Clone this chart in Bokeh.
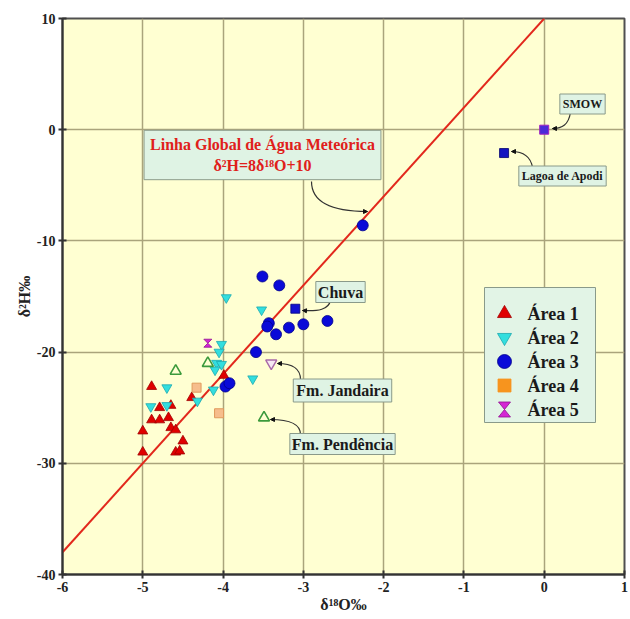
from bokeh.plotting import figure
from bokeh.models import Range1d, FixedTicker, Label, Arrow, NormalHead
from bokeh.embed import file_html
from bokeh.resources import INLINE
from bokeh.core.properties import value

# ---------------- data ----------------
area1_d18O = [-4.89, -4.79, -4.65, -4.89, -4.79, -4.68, -4.65, -4.59, -5.00, -4.50, -5.00, -4.59, -4.54, -4.39, -3.99]
area1_d2H = [-23.1, -25.0, -24.8, -26.1, -26.1, -25.9, -26.8, -27.0, -27.1, -28.0, -29.0, -29.0, -28.9, -24.1, -22.1]
area2_d18O = [-4.02, -4.05, -4.08, -4.02, -4.10, -4.12, -4.70, -4.90, -4.70, -4.32, -3.63, -3.96, -3.52]
area2_d2H = [-19.3, -20.0, -21.0, -21.1, -21.6, -23.4, -23.2, -24.9, -24.8, -24.4, -22.4, -15.1, -16.2]
area3_d18O = [-3.51, -3.30, -3.43, -3.45, -3.34, -3.18, -3.00, -2.70, -3.59, -3.97, -3.92, -2.26]
area3_d2H = [-13.2, -14.0, -17.4, -17.7, -18.4, -17.8, -17.5, -17.2, -20.0, -23.1, -22.8, -8.6]
area4_d18O = [-4.33, -4.05]
area4_d2H = [-23.2, -25.5]
area5_d18O = [-4.19]
area5_d2H = [-19.2]
pendencia_d18O = [-4.59, -4.19, -3.49]
pendencia_d2H = [-21.7, -21.0, -25.9]
jandaira_d18O = [-3.40]
jandaira_d2H = [-21.0]
chuva_d18O = [-3.10]
chuva_d2H = [-16.1]
smow_d18O = [0.0]
smow_d2H = [0.0]
lagoa_d18O = [-0.50]
lagoa_d2H = [-2.1]
gmwl_d18O = [-6.0, 0.0]
gmwl_d2H = [-38.0, 10.0]

x_ticks = [-6, -5, -4, -3, -2, -1, 0, 1]
y_ticks = [-40, -30, -20, -10, 0, 10]
legend_labels = ["Área 1", "Área 2", "Área 3", "Área 4", "Área 5"]

# ---------------- layout helpers (pixel -> data) ----------------
X0, X1, Y0, Y1 = -6.0, 1.0, -40.0, 10.0
FL, FT, FW, FH = 62, 18, 562, 556


def dx(px):
    return X0 + (px - FL) * (X1 - X0) / FW


def dy(py):
    return Y1 - (py - FT) * (Y1 - Y0) / FH


UX = (X1 - X0) / FW
UY = (Y1 - Y0) / FH


def hourglass(xs, ys, wpx, hpx):
    w, h = wpx / 2 * UX, hpx / 2 * UY
    pxs, pys = [], []
    for x, y in zip(xs, ys):
        pxs.append([x - w, x + w, x, x + w, x - w, x])
        pys.append([y + h, y + h, y, y - h, y - h, y])
    return pxs, pys


SERIF = "Liberation Serif"

p = figure(width=630, height=619, output_backend="svg", toolbar_location=None,
           x_range=Range1d(X0, X1), y_range=Range1d(Y0, Y1),
           min_border_left=FL, min_border_right=630 - FL - FW,
           min_border_top=FT, min_border_bottom=619 - FT - FH)
p.background_fill_color = "#ffffd2"
p.border_fill_color = "white"
p.outline_line_color = "#505050"
p.outline_line_width = 2

xt = FixedTicker(ticks=x_ticks)
yt = FixedTicker(ticks=y_ticks)
p.xaxis.ticker = xt
p.yaxis.ticker = yt
p.xgrid.ticker = xt
p.ygrid.ticker = yt
p.xaxis.major_label_overrides = {t: str(t) for t in x_ticks}
p.yaxis.major_label_overrides = {t: str(t) for t in y_ticks}
p.grid.grid_line_color = "#aaa47c"
p.grid.grid_line_width = 1.5

for ax in (p.xaxis[0], p.yaxis[0]):
    ax.axis_line_color = "#333333"
    ax.axis_line_width = 2
    ax.major_tick_line_color = "#333333"
    ax.major_tick_line_width = 2
    ax.major_tick_in = 4
    ax.major_tick_out = 4
    ax.minor_tick_line_color = None
    ax.major_label_text_font = SERIF
    ax.major_label_text_font_style = "bold"
    ax.major_label_text_font_size = "14px"
    ax.major_label_text_color = "#222222"
    ax.axis_label_text_font = SERIF
    ax.axis_label_text_font_style = "bold"
    ax.axis_label_text_font_size = "16px"
    ax.axis_label_text_color = "#222222"
    ax.major_label_standoff = 3
    ax.axis_label_standoff = 1
p.xaxis.axis_label = "δ¹⁸O‰"
p.yaxis.axis_label = "δ²H‰"

# global meteoric water line
p.line(gmwl_d18O, gmwl_d2H, line_color="#e2281c", line_width=2)

# data markers
p.scatter(area1_d18O, area1_d2H, marker="triangle", size=10,
          fill_color="#e00000", line_color="#a00000", line_width=0.8)
p.scatter(area2_d18O, area2_d2H, marker="inverted_triangle", size=10,
          fill_color="#33dede", line_color="#1aa8b0", line_width=0.8)
p.scatter(area3_d18O, area3_d2H, marker="circle", size=11,
          fill_color="#0a0ad8", line_color="#00008a", line_width=0.8)
p.scatter(area4_d18O, area4_d2H, marker="square", size=9,
          fill_color="#f6bd8c", line_color="#e09a5c", line_width=1)
hx, hy = hourglass(area5_d18O, area5_d2H, 8, 8)
p.patches(hx, hy, fill_color="#d426d4", line_color="#901090", line_width=0.8)
p.scatter(pendencia_d18O, pendencia_d2H, marker="triangle", size=11,
          fill_color=None, line_color="#3c9a3c", line_width=1.6)
p.scatter(jandaira_d18O, jandaira_d2H, marker="inverted_triangle", size=11,
          fill_color="#f6e8f2", line_color="#a868a8", line_width=1.4)
p.scatter(chuva_d18O, chuva_d2H, marker="square", size=9,
          fill_color="#1010d0", line_color="#000080", line_width=0.8)
p.scatter(smow_d18O, smow_d2H, marker="square", size=9,
          fill_color="#4a2ad8", line_color="#a020c0", line_width=1)
p.scatter(lagoa_d18O, lagoa_d2H, marker="square", size=9,
          fill_color="#1414c0", line_color="#000070", line_width=0.8)

# ---------------- callouts ----------------
BOX_FILL = "#dff3e4"
BOX_LINE = "#8a9a8a"
callouts = [
    ("Linha Global de Água Meteórica\nδ²H=8δ¹⁸O+10", 262, 154.5, "16px", "#e0201a", 6,
     (311, 181, 311, 201, 330, 211, 367, 211)),
    ("Chuva", 340, 291.5, "16px", "#1a1a1a", 2,
     (330, 300, 328, 309, 318, 311, 302, 310)),
    ("Fm. Jandaira", 342, 390, "16px", "#1a1a1a", 3,
     (300, 379, 300, 368, 292, 363, 277, 363)),
    ("Fm. Pendência", 342, 443.5, "16px", "#1a1a1a", 2,
     (300, 434, 300, 424, 290, 419, 270, 419)),
    ("SMOW", 582, 103.5, "12px", "#1a1a1a", 3,
     (570, 112, 568, 124, 562, 128, 552, 128)),
    ("Lagoa de Apodi", 562, 175.5, "12px", "#1a1a1a", 3,
     (532, 167, 530, 155, 522, 151, 511, 151)),
]
for text, cx, cy, fs, col, pad, (sx, sy, c1x, c1y, c2x, c2y, ex, ey) in callouts:
    p.bezier(x0=[dx(sx)], y0=[dy(sy)], x1=[dx(ex)], y1=[dy(ey)],
             cx0=[dx(c1x)], cy0=[dy(c1y)], cx1=[dx(c2x)], cy1=[dy(c2y)],
             line_color="#333333", line_width=1.2)
    p.add_layout(Arrow(end=NormalHead(size=4, fill_color="#111111", line_color="#111111"),
                       x_start=dx(c2x), y_start=dy(c2y), x_end=dx(ex), y_end=dy(ey),
                       line_alpha=0))
    p.add_layout(Label(x=dx(cx), y=dy(cy), text=text, text_align="center",
                       text_baseline="middle", text_font=SERIF, text_font_style="bold",
                       text_font_size=fs, text_color=col, background_fill_color=BOX_FILL,
                       border_line_color=BOX_LINE, border_line_width=1, padding=pad))

# ---------------- legend (drawn manually) ----------------
p.quad(left=[dx(484)], right=[dx(595)], top=[dy(287)], bottom=[dy(422)],
       fill_color="#e2f4e6", line_color=BOX_LINE, line_width=1)
rows = [313, 337, 361, 385, 409]
mx = dx(504)
p.scatter([mx], [dy(rows[0])], marker="triangle", size=14,
          fill_color="#e00000", line_color="#a00000", line_width=0.8)
p.scatter([mx], [dy(rows[1])], marker="inverted_triangle", size=14,
          fill_color="#33dede", line_color="#1aa8b0", line_width=0.8)
p.scatter([mx], [dy(rows[2])], marker="circle", size=14,
          fill_color="#0a0ad8", line_color="#00008a", line_width=0.8)
p.scatter([mx], [dy(rows[3])], marker="square", size=13,
          fill_color="#f7941e", line_color="#f7941e", line_width=0.8)
lx, ly = hourglass([mx], [dy(rows[4])], 12, 15)
p.patches(lx, ly, fill_color="#d426d4", line_color="#901090", line_width=0.8)
p.text([dx(527)] * 5, [dy(r) for r in rows], text=legend_labels,
       text_font=value(SERIF), text_font_style="bold", text_font_size="18px",
       text_color="#1a1a1a", text_align="left", text_baseline="middle")

open("out.html", "w").write(file_html(p, INLINE))
